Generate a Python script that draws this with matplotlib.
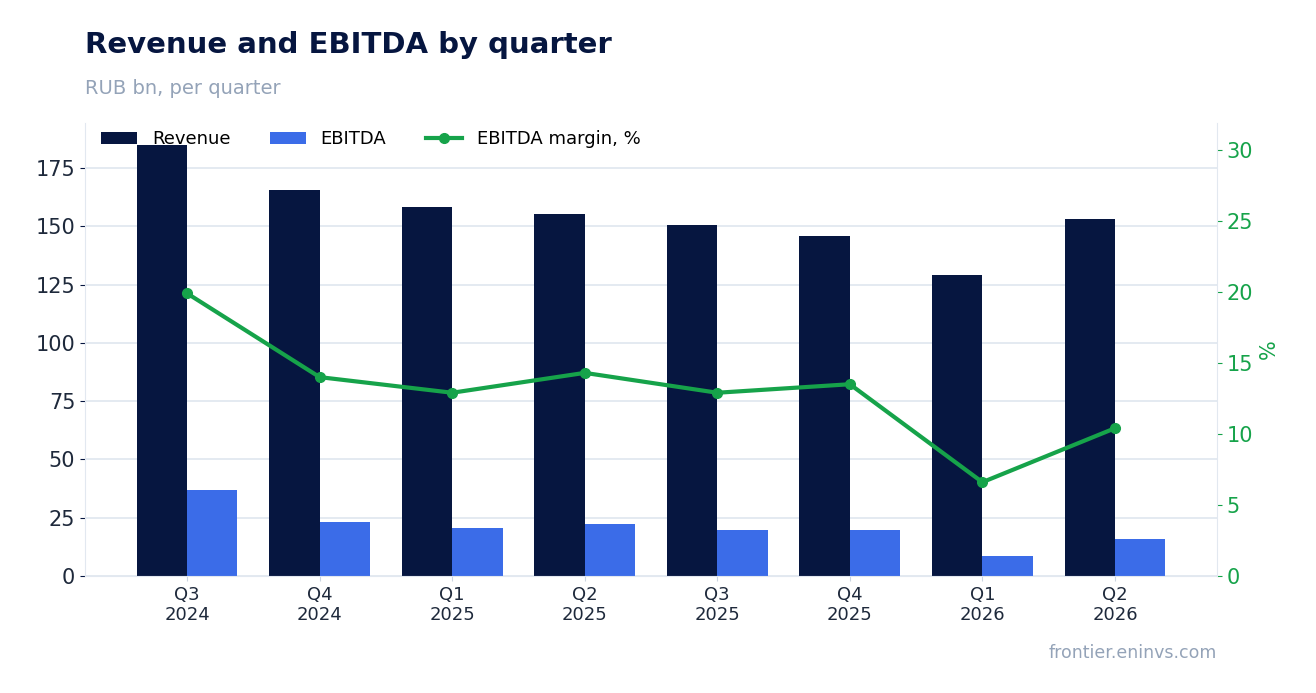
import numpy as np
import matplotlib.pyplot as plt

quarters = ["Q3\n2024", "Q4\n2024", "Q1\n2025", "Q2\n2025", "Q3\n2025", "Q4\n2025", "Q1\n2026", "Q2\n2026"]
revenue = [184.9, 165.5, 158.3, 155.3, 150.6, 145.8, 129.2, 153.2]
ebitda = [36.9, 23.2, 20.6, 22.2, 19.5, 19.6, 8.5, 15.9]
margin = [19.9, 14.0, 12.9, 14.3, 12.9, 13.5, 6.6, 10.4]

navy = "#061640"
blue = "#3b6ce8"
green = "#16a34a"
grid_c = "#e2e8f0"

fig = plt.figure(figsize=(13.16, 6.93), dpi=100)
ax = fig.add_axes([0.0646, 0.169, 0.8602, 0.6535])
x = np.arange(len(quarters))
w = 0.38
ax.bar(x - w / 2, revenue, w, color=navy, label="Revenue", zorder=2)
ax.bar(x + w / 2, ebitda, w, color=blue, label="EBITDA", zorder=2)
ax.set_xlim(-0.77, 7.77)
ax.set_ylim(0, 194.3)
ax.set_xticks(x)
ax.set_xticklabels(quarters, fontsize=13, color="#1e293b")
ax.tick_params(axis="y", labelsize=15, colors=navy, labelcolor="#1e293b")
ax.tick_params(axis="x", colors="#cbd5e1", labelcolor="#1e293b")
ax.yaxis.grid(True, color=grid_c, lw=1.3, zorder=0)
ax.set_axisbelow(True)
for s in ["top", "right"]:
    ax.spines[s].set_visible(False)
ax.spines["left"].set_color(grid_c)
ax.spines["bottom"].set_color(grid_c)

ax2 = ax.twinx()
ax2.plot(x, margin, color=green, lw=3, marker="o", markersize=7, label="EBITDA margin, %", zorder=3)
ax2.set_ylim(0, 31.9)
ax2.set_yticks([0, 5, 10, 15, 20, 25, 30])
ax2.tick_params(axis="y", labelsize=15, colors=green)
ax2.set_ylabel("%", color=green, fontsize=15)
for s in ["top", "left", "bottom"]:
    ax2.spines[s].set_visible(False)
ax2.spines["right"].set_color(grid_c)

h1, l1 = ax.get_legend_handles_labels()
h2, l2 = ax2.get_legend_handles_labels()
ax2.legend(h1 + h2, l1 + l2, loc="upper left", ncol=3, frameon=False, fontsize=13,
           bbox_to_anchor=(0.0, 1.02), columnspacing=2.2)

fig.text(0.0646, 0.935, "Revenue and EBITDA by quarter", fontsize=21, fontweight="bold", color=navy, va="center")
fig.text(0.0646, 0.873, "RUB bn, per quarter", fontsize=14, color="#94a3b8", va="center")
fig.text(0.9248, 0.058, "frontier.eninvs.com", fontsize=12.5, color="#94a3b8", ha="right", va="center")

fig.savefig("out.png", dpi=100)
